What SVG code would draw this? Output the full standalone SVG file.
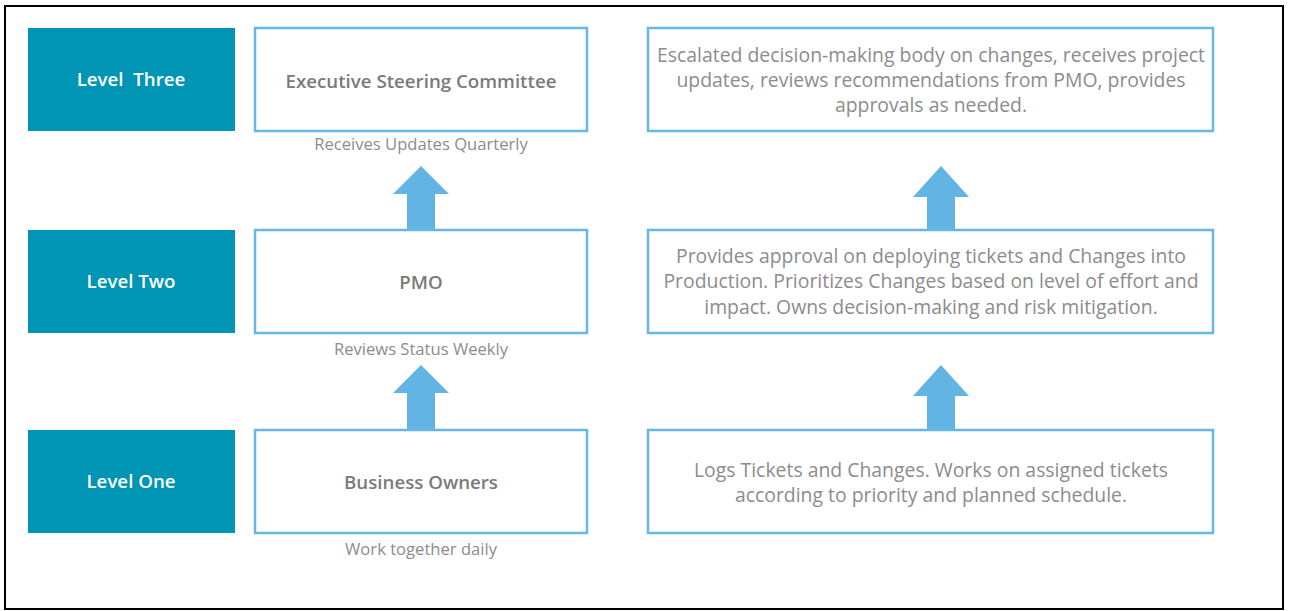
<svg xmlns="http://www.w3.org/2000/svg" width="1290" height="611" viewBox="0 0 1290 611">
  <defs>
    <style>
      .frame { fill: #ffffff; stroke: #000000; stroke-width: 2; }
      .level { fill: #0095B4; }
      .box { fill: #ffffff; stroke: #66B6E8; stroke-width: 2.5; }
      .arrow { fill: #62B4E5; }
      .lvl-text { font-family: "Open Sans", "Noto Sans", sans-serif; font-size: 18.7px; font-weight: 600; fill: #ffffff; text-anchor: middle; }
      .name { font-family: "Open Sans", "Noto Sans", sans-serif; font-size: 18.7px; font-weight: 600; fill: #7a7a7a; text-anchor: middle; }
      .note { font-family: "Open Sans", "Noto Sans", sans-serif; font-size: 16.6px; font-weight: 400; fill: #8c8c8c; text-anchor: middle; }
      .desc { font-family: "Open Sans", "Noto Sans", sans-serif; font-size: 19.4px; font-weight: 400; fill: #8c8c8c; text-anchor: middle; }
    </style>
  </defs>

  <rect class="frame" x="5" y="6" width="1278" height="603"/>

  <!-- Level labels -->
  <g id="level-three">
    <rect class="level" x="28" y="28" width="207" height="103"/>
    <text class="lvl-text" x="131" y="86" xml:space="preserve">Level  Three</text>
  </g>
  <g id="level-two">
    <rect class="level" x="28" y="230" width="207" height="103"/>
    <text class="lvl-text" x="131" y="288">Level Two</text>
  </g>
  <g id="level-one">
    <rect class="level" x="28" y="430" width="207" height="103"/>
    <text class="lvl-text" x="131" y="488">Level One</text>
  </g>

  <!-- Role boxes -->
  <g id="executive-steering-committee">
    <rect class="box" x="255" y="28" width="332" height="103"/>
    <text class="name" x="421" y="88">Executive Steering Committee</text>
    <text class="note" x="421" y="150">Receives Updates Quarterly</text>
  </g>
  <g id="pmo">
    <rect class="box" x="255" y="230" width="332" height="103"/>
    <text class="name" x="421" y="289">PMO</text>
    <text class="note" x="421" y="355">Reviews Status Weekly</text>
  </g>
  <g id="business-owners">
    <rect class="box" x="255" y="430" width="332" height="103"/>
    <text class="name" x="421" y="489">Business Owners</text>
    <text class="note" x="421" y="555">Work together daily</text>
  </g>

  <!-- Responsibility boxes -->
  <g id="desc-three">
    <rect class="box" x="648" y="28" width="565" height="103"/>
    <text class="desc" x="931" y="62">Escalated decision-making body on changes, receives project</text>
    <text class="desc" x="931" y="87">updates, reviews recommendations from PMO, provides</text>
    <text class="desc" x="931" y="112">approvals as needed.</text>
  </g>
  <g id="desc-two">
    <rect class="box" x="648" y="230" width="565" height="103"/>
    <text class="desc" x="931" y="263">Provides approval on deploying tickets and Changes into</text>
    <text class="desc" x="931" y="288">Production. Prioritizes Changes based on level of effort and</text>
    <text class="desc" x="931" y="314">impact. Owns decision-making and risk mitigation.</text>
  </g>
  <g id="desc-one">
    <rect class="box" x="648" y="430" width="565" height="103"/>
    <text class="desc" x="931" y="477">Logs Tickets and Changes. Works on assigned tickets</text>
    <text class="desc" x="931" y="502">according to priority and planned schedule.</text>
  </g>

  <!-- Upward arrows -->
  <g id="connectors">
    <polygon class="arrow" points="421,166 449,194 435,194 435,229 407,229 407,194 393,194"/>
    <polygon class="arrow" points="421,365 449,393 435,393 435,429 407,429 407,393 393,393"/>
    <polygon class="arrow" points="941,166 969,197 955,197 955,229 927,229 927,197 913,197"/>
    <polygon class="arrow" points="941,365 969,396 955,396 955,429 927,429 927,396 913,396"/>
  </g>
</svg>
